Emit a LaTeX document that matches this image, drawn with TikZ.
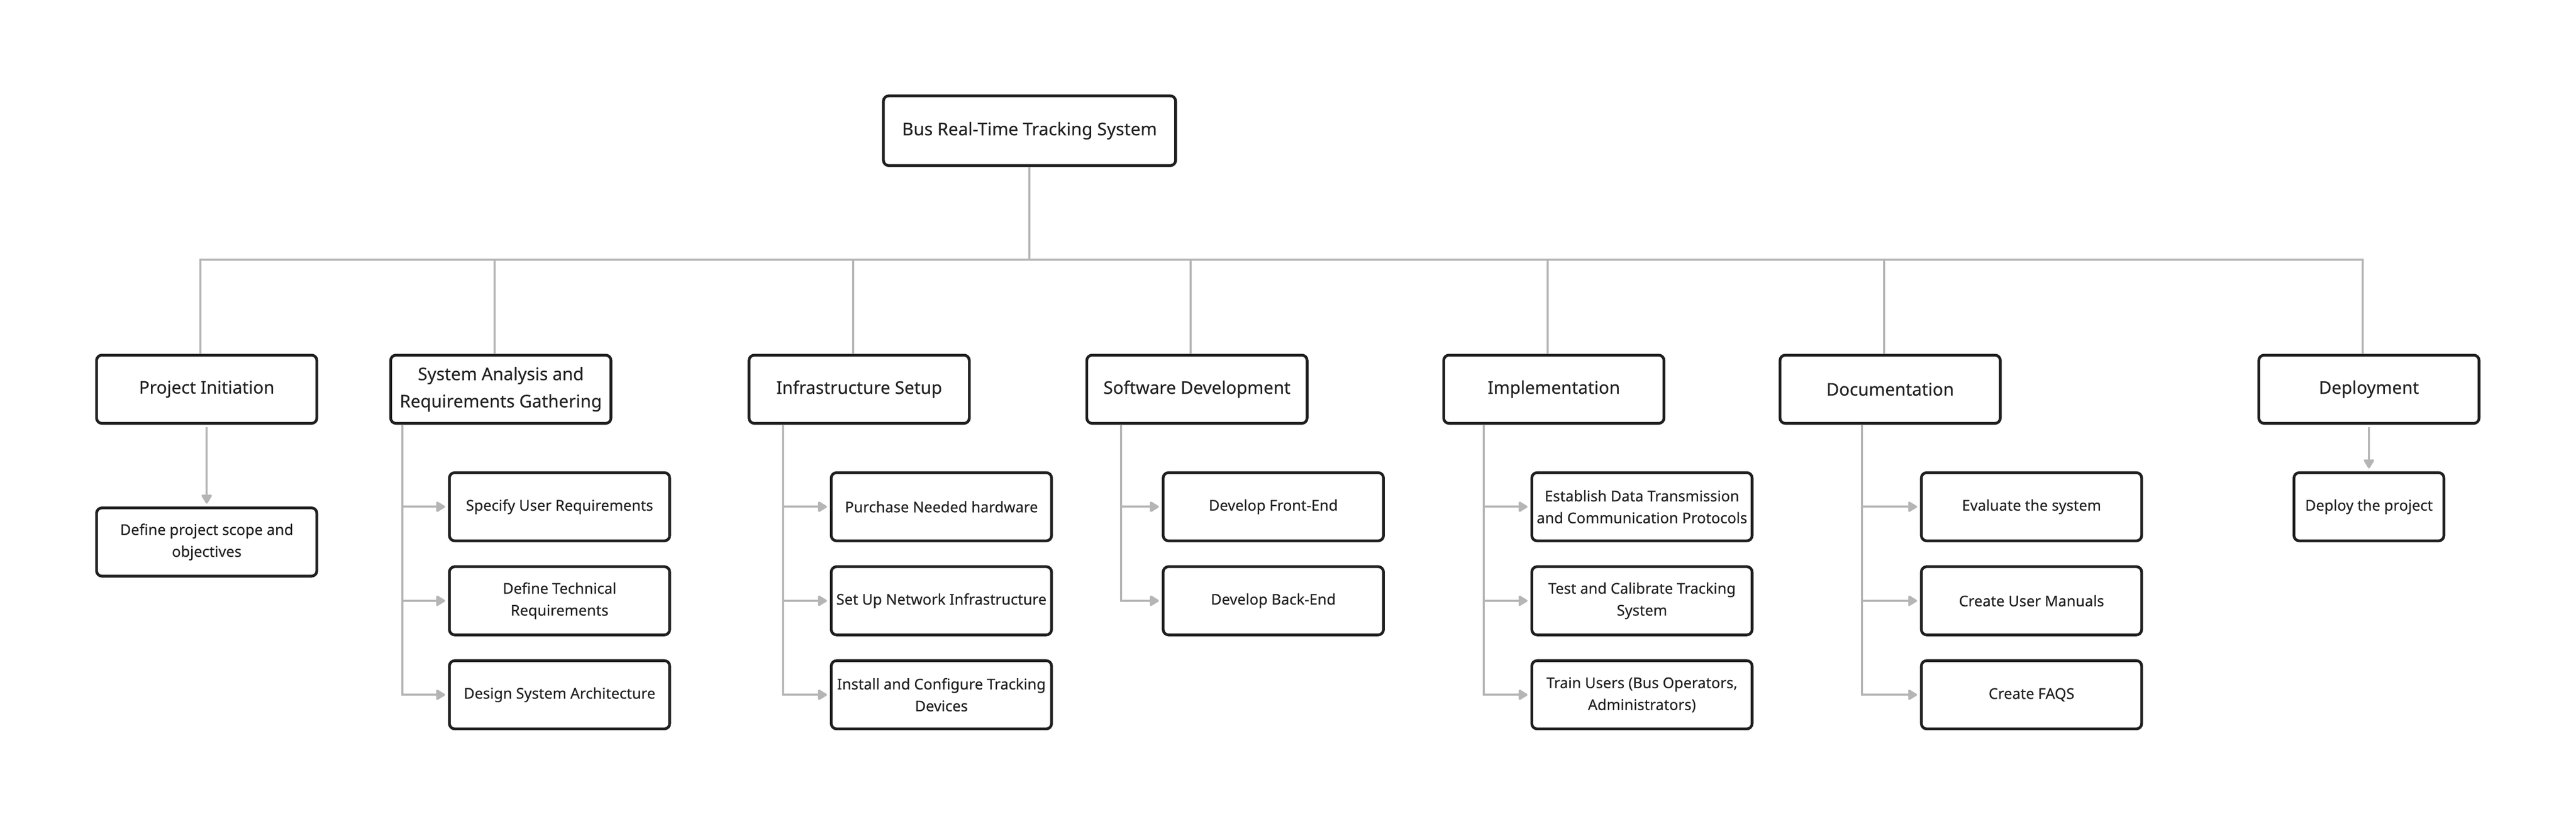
\documentclass[tikz,border=0pt]{standalone}
\usepackage{fontspec}
\setmainfont{Noto Sans}[FakeBold=0.25]
\usepackage{xcolor}
\usepackage{tikz}
\usetikzlibrary{arrows.meta,calc}
\definecolor{boxline}{HTML}{1F1F1F}
\definecolor{wbsgray}{HTML}{B5B5B5}
\definecolor{labelgray}{HTML}{222222}

\begin{document}
\begin{tikzpicture}[x=24pt,y=24pt,
    wbsbox/.style={draw=boxline, line width=1.8pt, rounded corners=3.5pt, fill=white,
        text=labelgray, align=center, inner sep=2pt,
        minimum width=144pt, minimum height=44.6pt},
    topbox/.style={wbsbox, minimum width=191pt, minimum height=45.6pt,
        font=\fontsize{11.5}{16.5}\selectfont},
    phasebox/.style={wbsbox, font=\fontsize{11.4}{17.8}\selectfont},
    taskbox/.style={wbsbox, font=\fontsize{9.7}{14.3}\selectfont},
    wbsline/.style={draw=wbsgray, line width=1.35pt},
    wbsarrow/.style={wbsline, shorten >=1.9pt, -{Triangle[length=6.5pt,width=7.5pt,round]}}
]
    \useasboundingbox (0,0) rectangle (70.16,-22.48);

    % Root
    \node[topbox] (root) at (28.04,-3.56) {Bus Real-Time Tracking System};

    % Phases
    \foreach \name/\x/\txt in {proj/5.63/{Project Initiation},
        sys/13.64/{System Analysis and\\Requirements Gathering},
        infra/23.40/{Infrastructure Setup},
        soft/32.60/{Software Development},
        impl/42.32/{Implementation},
        doc/51.48/{Documentation},
        dep/64.52/{Deployment}} {
        \node[phasebox] (\name) at (\x,-10.60) {\txt};
    }

    % Tasks
    \node[taskbox] (proj1) at (5.63,-14.76) {Define project scope and\\objectives};

    \node[taskbox] (sys1) at (15.24,-13.80) {Specify User Requirements};
    \node[taskbox] (sys2) at (15.24,-16.36) {Define Technical\\Requirements};
    \node[taskbox] (sys3) at (15.24,-18.92) {Design System Architecture};

    \node[taskbox] (infra1) at (25.64,-13.80) {Purchase Needed hardware};
    \node[taskbox] (infra2) at (25.64,-16.36) {Set Up Network Infrastructure};
    \node[taskbox] (infra3) at (25.64,-18.92) {Install and Configure Tracking\\Devices};

    \node[taskbox] (soft1) at (34.68,-13.80) {Develop Front-End};
    \node[taskbox] (soft2) at (34.68,-16.36) {Develop Back-End};

    \node[taskbox] (impl1) at (44.72,-13.80) {Establish Data Transmission\\and Communication Protocols};
    \node[taskbox] (impl2) at (44.72,-16.36) {Test and Calibrate Tracking\\System};
    \node[taskbox] (impl3) at (44.72,-18.92) {Train Users (Bus Operators,\\Administrators)};

    \node[taskbox] (doc1) at (55.33,-13.80) {Evaluate the system};
    \node[taskbox] (doc2) at (55.33,-16.36) {Create User Manuals};
    \node[taskbox] (doc3) at (55.33,-18.92) {Create FAQS};

    \node[taskbox, minimum width=98pt] (dep1) at (64.52,-13.80) {Deploy the project};

    % Bus from the root to every phase
    \coordinate (bus) at (0,-7.07);
    \foreach \p in {proj,sys,infra,soft,impl,doc,dep} {
        \draw[wbsline] (root.south) |- ([xshift=-4pt]\p.north |- bus) -- ([xshift=-4pt]\p.north);
    }

    % Single tasks straight below
    \draw[wbsarrow, shorten <=1.7pt] (proj) -- (proj1);
    \draw[wbsarrow, shorten <=1.7pt] (dep) -- (dep1);

    % Task lists along the left side
    \foreach \p/\off/\n in {sys/8.4pt/3, infra/23.3pt/3, soft/23.3pt/2, impl/27pt/3, doc/54.5pt/3} {
        \foreach \i in {1,...,\n} {
            \draw[wbsarrow] ([xshift=\off]\p.south west) |- (\p\i.west);
        }
    }
\end{tikzpicture}
\end{document}
